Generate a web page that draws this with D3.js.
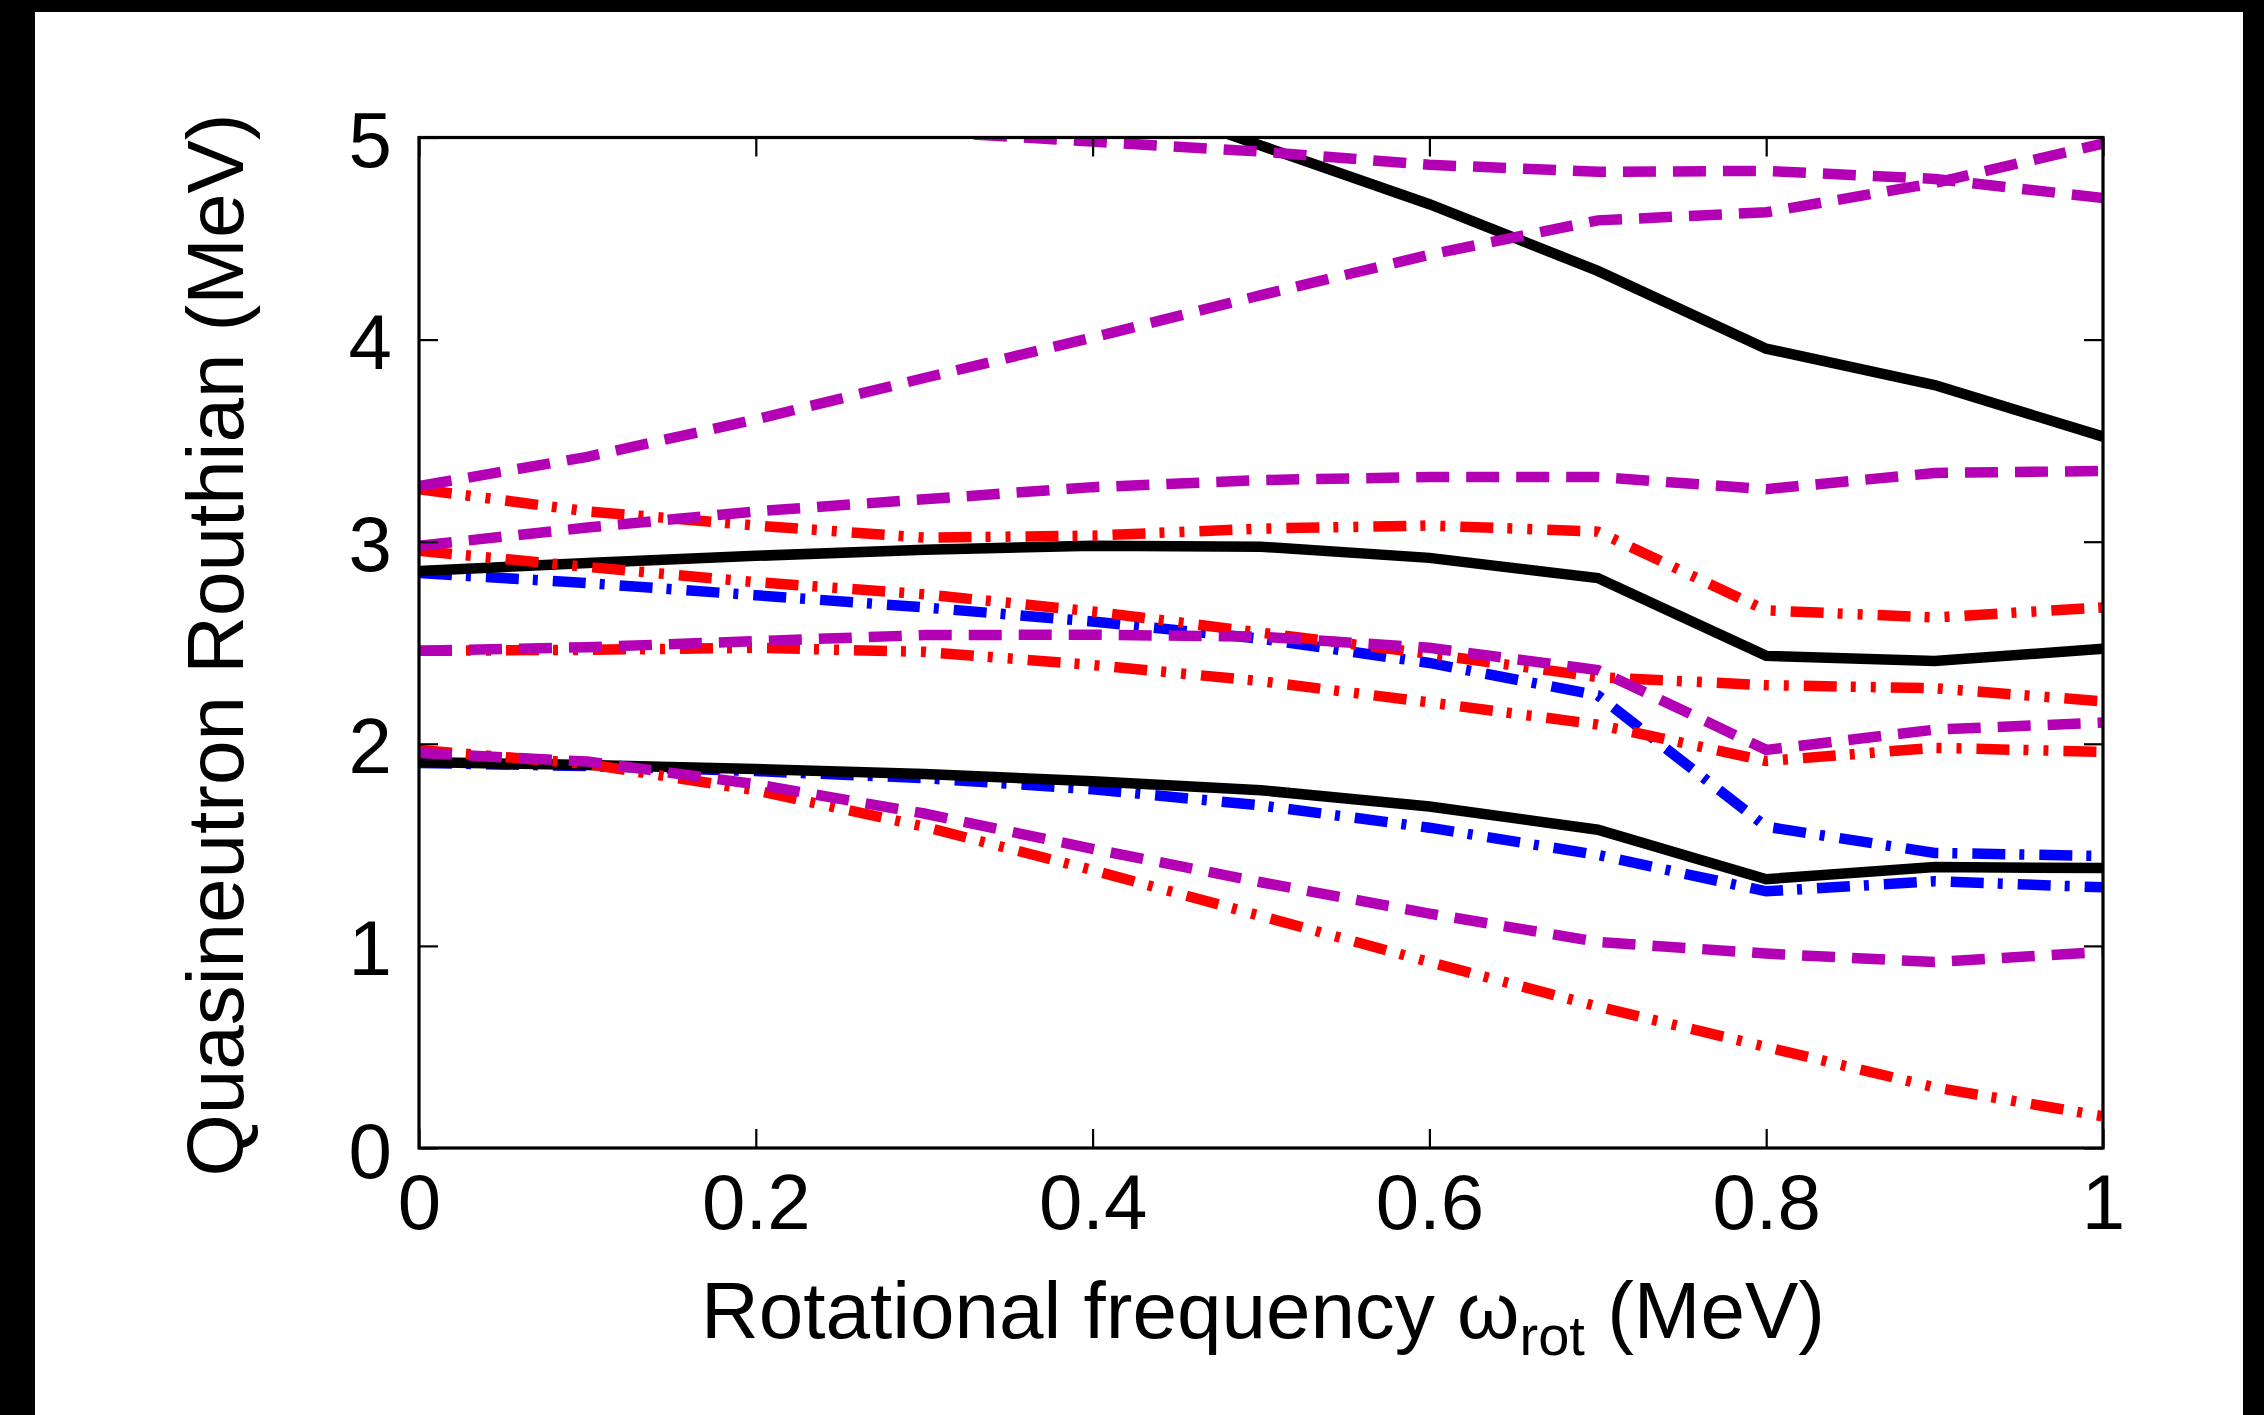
<!DOCTYPE html>
<html>
<head>
<meta charset="utf-8">
<script src="https://cdn.jsdelivr.net/npm/d3@7"></script>
<style>
  html, body { margin: 0; padding: 0; background: #fff; }
  svg { display: block; }
  text { font-family: "Liberation Sans", Arial, Helvetica, sans-serif; fill: #000; }
</style>
</head>
<body>
<script>
// ---------------- data ----------------
const omega = [0, 0.1, 0.2, 0.3, 0.4, 0.5, 0.6, 0.7, 0.8, 0.9, 1.0];

// black solid
const black1 = [null, null, null, null, 5.25, 4.96, 4.67, 4.34, 3.955, 3.775, 3.52];
const black2 = [2.855, 2.895, 2.93, 2.96, 2.98, 2.975, 2.92, 2.82, 2.435, 2.41, 2.47];
const black3 = [1.91, 1.895, 1.875, 1.85, 1.815, 1.77, 1.69, 1.575, 1.33, 1.39, 1.385];

// blue dash-dot
const blue1 = [2.845, 2.795, 2.735, 2.675, 2.605, 2.52, 2.40, 2.24, 1.59, 1.46, 1.445];
const blue2 = [1.905, 1.89, 1.865, 1.83, 1.775, 1.695, 1.585, 1.45, 1.27, 1.32, 1.29];

// red dash-dot-dot
const red1 = [3.26, 3.15, 3.08, 3.02, 3.03, 3.065, 3.08, 3.05, 2.66, 2.625, 2.675];
const red2 = [2.955, 2.875, 2.80, 2.74, 2.655, 2.55, 2.445, 2.33, 2.29, 2.275, 2.21];
const red3 = [2.46, 2.465, 2.475, 2.455, 2.39, 2.31, 2.205, 2.095, 1.915, 1.98, 1.96];
const red4 = [1.97, 1.90, 1.77, 1.59, 1.375, 1.148, 0.92, 0.70, 0.50, 0.30, 0.157];

// magenta dashed
const mag1 = [null, null, null, 5.03, 4.98, 4.93, 4.865, 4.83, 4.835, 4.795, 4.70];
const mag2 = [3.275, 3.42, 3.605, 3.81, 4.01, 4.22, 4.42, 4.59, 4.63, 4.775, 4.97];
const mag3 = [2.98, 3.07, 3.15, 3.21, 3.27, 3.305, 3.32, 3.32, 3.26, 3.34, 3.35];
const mag4 = [2.46, 2.478, 2.508, 2.538, 2.54, 2.53, 2.475, 2.365, 1.97, 2.07, 2.105];
const mag5 = [1.955, 1.912, 1.80, 1.655, 1.48, 1.315, 1.16, 1.02, 0.962, 0.92, 0.97];

const xTicks = [0, 0.2, 0.4, 0.6, 0.8, 1];
const xTickLabels = ["0", "0.2", "0.4", "0.6", "0.8", "1"];
const yTicks = [0, 1, 2, 3, 4, 5];
const yTickLabels = ["0", "1", "2", "3", "4", "5"];

const xTitle = "Rotational frequency ω";
const xTitleSub = "rot";
const xTitleEnd = " (MeV)";
const yTitle = "Quasineutron Routhian (MeV)";

// ---------------- layout ----------------
const W = 2264, H = 1415;
const L = 419, R = 2103, T = 137.5, B = 1148;

const styles = {
  black:   { color: "#000000", dash: null },
  blue:    { color: "#0000ff", dash: "33,14,5,15" },
  red:     { color: "#ff0000", dash: "33,14,5,15,5,15" },
  magenta: { color: "#b400b4", dash: "33,17" }
};

// draw order (bottom to top)
const series = [
  { v: blue1, s: "blue" }, { v: blue2, s: "blue" },
  { v: black1, s: "black" }, { v: black2, s: "black" }, { v: black3, s: "black" },
  { v: red1, s: "red" }, { v: red2, s: "red" }, { v: red3, s: "red" }, { v: red4, s: "red" },
  { v: mag1, s: "magenta" }, { v: mag2, s: "magenta" }, { v: mag3, s: "magenta" },
  { v: mag4, s: "magenta" }, { v: mag5, s: "magenta" }
];

const svg = d3.select("body").append("svg")
  .attr("width", W).attr("height", H).attr("viewBox", `0 0 ${W} ${H}`);

svg.append("rect").attr("x", 0).attr("y", 0).attr("width", W).attr("height", H).attr("fill", "#fff");
// black borders of the picture
svg.append("rect").attr("x", 0).attr("y", 0).attr("width", W).attr("height", 12).attr("fill", "#000");
svg.append("rect").attr("x", 0).attr("y", 0).attr("width", 35).attr("height", H).attr("fill", "#000");
svg.append("rect").attr("x", 2243).attr("y", 0).attr("width", W - 2243).attr("height", H).attr("fill", "#000");

const x = d3.scaleLinear().domain([0, 1]).range([L, R]);
const y = d3.scaleLinear().domain([0, 5]).range([B, T]);

svg.append("clipPath").attr("id", "plotclip")
  .append("rect").attr("x", L).attr("y", T).attr("width", R - L).attr("height", B - T);

const line = d3.line()
  .defined(d => d[1] !== null)
  .x(d => x(d[0]))
  .y(d => y(d[1]));

const gLines = svg.append("g").attr("clip-path", "url(#plotclip)");
series.forEach(sr => {
  const st = styles[sr.s];
  const pts = omega.map((w, i) => [w, sr.v[i]]);
  const p = gLines.append("path")
    .attr("d", line(pts))
    .attr("fill", "none")
    .attr("stroke", st.color)
    .attr("stroke-width", 10.5)
    .attr("stroke-linecap", "butt")
    .attr("stroke-linejoin", "miter");
  if (st.dash) p.attr("stroke-dasharray", st.dash);
});

// axes (ticks inward on all four sides)
const tickLen = 19;
const fontSize = 78;

const gx = svg.append("g").attr("transform", `translate(0,${B})`)
  .call(d3.axisBottom(x).tickValues(xTicks).tickSizeInner(-tickLen).tickSizeOuter(0)
    .tickFormat((d, i) => xTickLabels[i]));
const gxt = svg.append("g").attr("transform", `translate(0,${T})`)
  .call(d3.axisTop(x).tickValues(xTicks).tickSizeInner(-tickLen).tickSizeOuter(0).tickFormat(""));
const gy = svg.append("g").attr("transform", `translate(${L},0)`)
  .call(d3.axisLeft(y).tickValues(yTicks).tickSizeInner(-tickLen).tickSizeOuter(0)
    .tickFormat((d, i) => yTickLabels[i]));
const gyr = svg.append("g").attr("transform", `translate(${R},0)`)
  .call(d3.axisRight(y).tickValues(yTicks).tickSizeInner(-tickLen).tickSizeOuter(0).tickFormat(""));

[gx, gxt, gy, gyr].forEach(g => {
  g.select(".domain").remove();
  g.selectAll(".tick line").attr("stroke", "#000").attr("stroke-width", 2.2);
  g.selectAll(".tick text").remove === undefined;
});

gx.selectAll(".tick text")
  .attr("y", 81).attr("dy", null)
  .attr("font-size", fontSize)
  .attr("font-family", "'Liberation Sans', Arial, Helvetica, sans-serif")
  .attr("fill", "#000");

gy.selectAll(".tick text")
  .attr("x", -27).attr("dy", null).attr("y", 29)
  .attr("font-size", fontSize)
  .attr("font-family", "'Liberation Sans', Arial, Helvetica, sans-serif")
  .attr("fill", "#000");

// frame
svg.append("rect")
  .attr("x", L).attr("y", T).attr("width", R - L).attr("height", B - T)
  .attr("fill", "none").attr("stroke", "#000").attr("stroke-width", 3.2);

// axis titles
const xt = svg.append("text")
  .attr("x", (L + R) / 2 + 2).attr("y", 1338)
  .attr("text-anchor", "middle")
  .attr("font-size", 80);
xt.append("tspan").text(xTitle);
xt.append("tspan").attr("font-size", 56).attr("dy", 17).text(xTitleSub);
xt.append("tspan").attr("dy", -17).text(xTitleEnd);

svg.append("text")
  .attr("transform", `translate(243,${645}) rotate(-90)`)
  .attr("text-anchor", "middle")
  .attr("font-size", 80)
  .text(yTitle);
</script>
</body>
</html>
